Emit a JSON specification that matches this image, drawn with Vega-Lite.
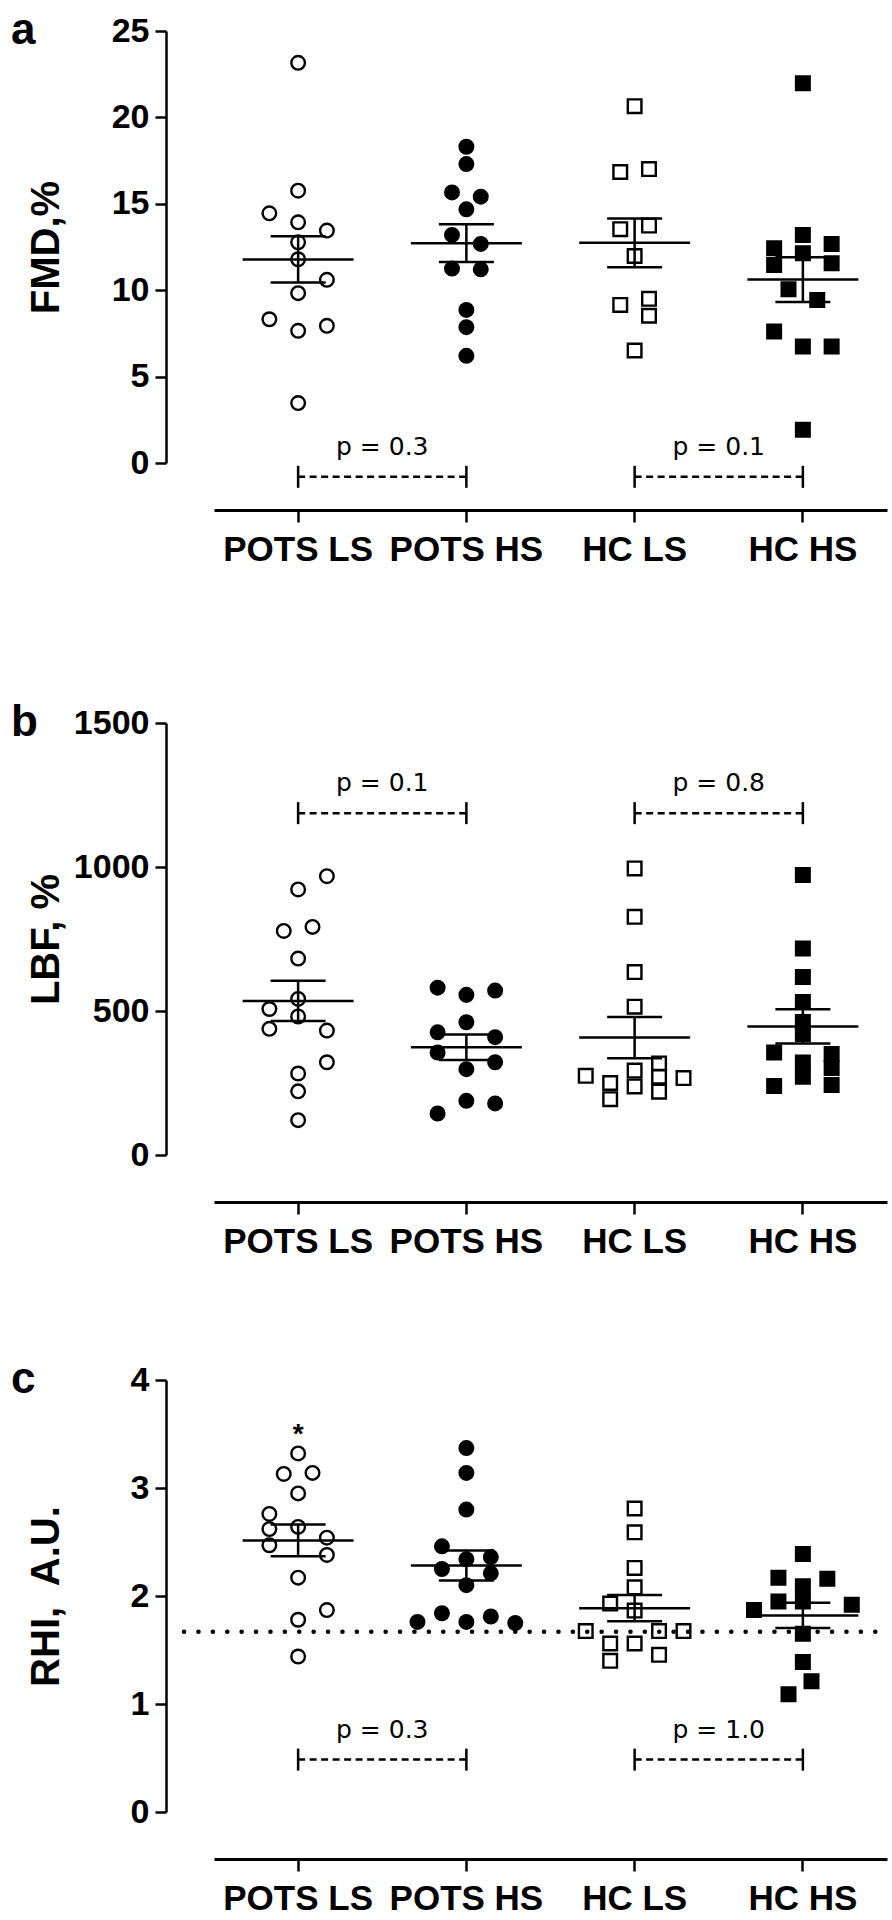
{
  "$schema": "https://vega.github.io/schema/vega-lite/v6.json",
  "background": "white",
  "padding": {"left": 11, "top": 9, "right": 0, "bottom": 0},
  "spacing": 134,
  "config": {
    "view": {"stroke": null},
    "font": "Liberation Sans",
    "axis": {"domainColor": "black", "tickColor": "black", "labelColor": "black", "titleColor": "black", "grid": false, "labelFont": "Liberation Sans", "titleFont": "Liberation Sans"},
    "title": {"anchor": "start", "frame": "bounds", "fontSize": 44, "fontWeight": "bold", "font": "Liberation Sans", "color": "black", "offset": -39, "dx": -15}
  },
  "datasets": {
    "fmd": [
      {"g": "POTS LS", "v": 23.16, "c": 0}, {"g": "POTS LS", "v": 15.76, "c": 0}, {"g": "POTS LS", "v": 14.45, "c": -2}, {"g": "POTS LS", "v": 13.93, "c": 0}, {"g": "POTS LS", "v": 13.45, "c": 2}, {"g": "POTS LS", "v": 12.77, "c": 0}, {"g": "POTS LS", "v": 11.79, "c": 0}, {"g": "POTS LS", "v": 10.6, "c": 2}, {"g": "POTS LS", "v": 9.83, "c": 0}, {"g": "POTS LS", "v": 8.32, "c": -2}, {"g": "POTS LS", "v": 7.94, "c": 2}, {"g": "POTS LS", "v": 7.65, "c": 0}, {"g": "POTS LS", "v": 3.47, "c": 0},
      {"g": "POTS HS", "v": 18.3, "c": 0}, {"g": "POTS HS", "v": 17.3, "c": 0}, {"g": "POTS HS", "v": 15.66, "c": -1}, {"g": "POTS HS", "v": 15.41, "c": 1}, {"g": "POTS HS", "v": 14.68, "c": 0}, {"g": "POTS HS", "v": 13.2, "c": -1}, {"g": "POTS HS", "v": 12.68, "c": 1}, {"g": "POTS HS", "v": 11.25, "c": -1}, {"g": "POTS HS", "v": 11.21, "c": 1}, {"g": "POTS HS", "v": 8.86, "c": 0}, {"g": "POTS HS", "v": 7.86, "c": 0}, {"g": "POTS HS", "v": 6.2, "c": 0},
      {"g": "HC LS", "v": 20.65, "c": 0}, {"g": "HC LS", "v": 16.84, "c": -1}, {"g": "HC LS", "v": 17.01, "c": 1}, {"g": "HC LS", "v": 13.53, "c": -1}, {"g": "HC LS", "v": 13.74, "c": 1}, {"g": "HC LS", "v": 11.98, "c": 0}, {"g": "HC LS", "v": 9.15, "c": -1}, {"g": "HC LS", "v": 9.5, "c": 1}, {"g": "HC LS", "v": 8.52, "c": 1}, {"g": "HC LS", "v": 6.51, "c": 0},
      {"g": "HC HS", "v": 21.97, "c": 0}, {"g": "HC HS", "v": 13.2, "c": 0}, {"g": "HC HS", "v": 12.68, "c": 2}, {"g": "HC HS", "v": 12.43, "c": -2}, {"g": "HC HS", "v": 12.14, "c": 0}, {"g": "HC HS", "v": 11.56, "c": 2}, {"g": "HC HS", "v": 11.46, "c": -2}, {"g": "HC HS", "v": 10.06, "c": -1}, {"g": "HC HS", "v": 9.44, "c": 1}, {"g": "HC HS", "v": 7.61, "c": -2}, {"g": "HC HS", "v": 6.74, "c": 0}, {"g": "HC HS", "v": 6.74, "c": 2}, {"g": "HC HS", "v": 1.93, "c": 0}
    ],
    "lbf": [
      {"g": "POTS LS", "v": 968, "c": 2}, {"g": "POTS LS", "v": 922, "c": 0}, {"g": "POTS LS", "v": 792, "c": 1}, {"g": "POTS LS", "v": 778, "c": -1}, {"g": "POTS LS", "v": 682, "c": 0}, {"g": "POTS LS", "v": 542, "c": 0}, {"g": "POTS LS", "v": 507, "c": -2}, {"g": "POTS LS", "v": 481, "c": 0}, {"g": "POTS LS", "v": 438, "c": -2}, {"g": "POTS LS", "v": 432, "c": 2}, {"g": "POTS LS", "v": 322, "c": 2}, {"g": "POTS LS", "v": 283, "c": 0}, {"g": "POTS LS", "v": 221, "c": 0}, {"g": "POTS LS", "v": 121, "c": 0},
      {"g": "POTS HS", "v": 581, "c": -2}, {"g": "POTS HS", "v": 556, "c": 0}, {"g": "POTS HS", "v": 571, "c": 2}, {"g": "POTS HS", "v": 461, "c": 0}, {"g": "POTS HS", "v": 426, "c": -2}, {"g": "POTS HS", "v": 409, "c": 2}, {"g": "POTS HS", "v": 356, "c": -2}, {"g": "POTS HS", "v": 322, "c": 2}, {"g": "POTS HS", "v": 298, "c": 0}, {"g": "POTS HS", "v": 188, "c": 0}, {"g": "POTS HS", "v": 179, "c": 2}, {"g": "POTS HS", "v": 144, "c": -2},
      {"g": "HC LS", "v": 995, "c": 0}, {"g": "HC LS", "v": 827, "c": 0}, {"g": "HC LS", "v": 635, "c": 0}, {"g": "HC LS", "v": 515, "c": 0}, {"g": "HC LS", "v": 318, "c": 1.7}, {"g": "HC LS", "v": 293, "c": 0}, {"g": "HC LS", "v": 275, "c": -3.4}, {"g": "HC LS", "v": 272, "c": 1.7}, {"g": "HC LS", "v": 267, "c": 3.4}, {"g": "HC LS", "v": 250, "c": -1.7}, {"g": "HC LS", "v": 238, "c": 0}, {"g": "HC LS", "v": 220, "c": 1.7}, {"g": "HC LS", "v": 194, "c": -1.7},
      {"g": "HC HS", "v": 972, "c": 0}, {"g": "HC HS", "v": 717, "c": 0}, {"g": "HC HS", "v": 618, "c": 0}, {"g": "HC HS", "v": 531, "c": 0}, {"g": "HC HS", "v": 462, "c": 0}, {"g": "HC HS", "v": 420, "c": 0}, {"g": "HC HS", "v": 356, "c": -2}, {"g": "HC HS", "v": 351, "c": 2}, {"g": "HC HS", "v": 321, "c": 0}, {"g": "HC HS", "v": 302, "c": 2}, {"g": "HC HS", "v": 272, "c": 0}, {"g": "HC HS", "v": 243, "c": 2}, {"g": "HC HS", "v": 240, "c": -2}
    ],
    "rhi": [
      {"g": "POTS LS", "v": 3.32, "c": 0}, {"g": "POTS LS", "v": 3.13, "c": -1}, {"g": "POTS LS", "v": 3.14, "c": 1}, {"g": "POTS LS", "v": 2.95, "c": 0}, {"g": "POTS LS", "v": 2.76, "c": -2}, {"g": "POTS LS", "v": 2.62, "c": -2}, {"g": "POTS LS", "v": 2.64, "c": 0}, {"g": "POTS LS", "v": 2.54, "c": 2}, {"g": "POTS LS", "v": 2.47, "c": -2}, {"g": "POTS LS", "v": 2.38, "c": 2}, {"g": "POTS LS", "v": 2.17, "c": 0}, {"g": "POTS LS", "v": 1.87, "c": 2}, {"g": "POTS LS", "v": 1.78, "c": 0}, {"g": "POTS LS", "v": 1.44, "c": 0},
      {"g": "POTS HS", "v": 3.37, "c": 0}, {"g": "POTS HS", "v": 3.14, "c": 0}, {"g": "POTS HS", "v": 2.8, "c": 0}, {"g": "POTS HS", "v": 2.46, "c": -1.7}, {"g": "POTS HS", "v": 2.36, "c": 1.7}, {"g": "POTS HS", "v": 2.34, "c": 0}, {"g": "POTS HS", "v": 2.25, "c": -1.7}, {"g": "POTS HS", "v": 2.21, "c": 1.7}, {"g": "POTS HS", "v": 2.1, "c": 0}, {"g": "POTS HS", "v": 1.84, "c": -1.7}, {"g": "POTS HS", "v": 1.76, "c": -3.4}, {"g": "POTS HS", "v": 1.81, "c": 1.7}, {"g": "POTS HS", "v": 1.76, "c": 0}, {"g": "POTS HS", "v": 1.75, "c": 3.4},
      {"g": "HC LS", "v": 2.81, "c": 0}, {"g": "HC LS", "v": 2.59, "c": 0}, {"g": "HC LS", "v": 2.26, "c": 0}, {"g": "HC LS", "v": 2.08, "c": 0}, {"g": "HC LS", "v": 1.93, "c": -1.7}, {"g": "HC LS", "v": 1.865, "c": 0}, {"g": "HC LS", "v": 1.675, "c": -3.4}, {"g": "HC LS", "v": 1.675, "c": 1.7}, {"g": "HC LS", "v": 1.675, "c": 3.4}, {"g": "HC LS", "v": 1.56, "c": -1.7}, {"g": "HC LS", "v": 1.56, "c": 0}, {"g": "HC LS", "v": 1.455, "c": 1.7}, {"g": "HC LS", "v": 1.4, "c": -1.7},
      {"g": "HC HS", "v": 2.39, "c": 0}, {"g": "HC HS", "v": 2.17, "c": -1.7}, {"g": "HC HS", "v": 2.16, "c": 1.7}, {"g": "HC HS", "v": 2.09, "c": 0}, {"g": "HC HS", "v": 1.95, "c": -1.7}, {"g": "HC HS", "v": 1.95, "c": 0}, {"g": "HC HS", "v": 1.92, "c": 3.4}, {"g": "HC HS", "v": 1.87, "c": -3.4}, {"g": "HC HS", "v": 1.65, "c": 0}, {"g": "HC HS", "v": 1.39, "c": 0}, {"g": "HC HS", "v": 1.21, "c": 0.6}, {"g": "HC HS", "v": 1.09, "c": -1.0}
    ],
    "brA": [{"from": "POTS LS", "to": "POTS HS", "v": -0.8, "p": "p = 0.3"}, {"from": "HC LS", "to": "HC HS", "v": -0.8, "p": "p = 0.1"}],
    "brB": [{"from": "POTS LS", "to": "POTS HS", "v": 1187, "p": "p = 0.1"}, {"from": "HC LS", "to": "HC HS", "v": 1187, "p": "p = 0.8"}],
    "brC": [{"from": "POTS LS", "to": "POTS HS", "v": 0.485, "p": "p = 0.3"}, {"from": "HC LS", "to": "HC HS", "v": 0.485, "p": "p = 1.0"}],
    "refC": [{"from": "POTS LS", "to": "HC HS", "v": 1.668}]
  },
  "vconcat": [
    {
      "title": {"text": "a"},
      "width": 673, "height": 432,
      "layer": [
        {"data": {"name": "fmd"}, "mark": {"type": "point", "filled": true, "stroke": "black", "strokeWidth": 2.4, "opacity": 1},
         "encoding": {
           "x": {"field": "g", "type": "nominal", "title": null, "scale": {"type": "band", "domain": ["POTS LS", "POTS HS", "HC LS", "HC HS"], "paddingInner": 0, "paddingOuter": 0}, "axis": {"offset": 47, "domainWidth": 3, "tickSize": 12, "tickWidth": 2.5, "labelFontSize": 35, "labelFontWeight": "bold", "labelPadding": 10, "labelAngle": 0, "labelOverlap": false}},
           "xOffset": {"field": "c", "type": "quantitative", "scale": {"domain": [-5.85, 5.85]}},
           "y": {"field": "v", "type": "quantitative", "title": "FMD,%", "scale": {"domain": [0, 25], "nice": false, "zero": false}, "axis": {"values": [0, 5, 10, 15, 20, 25], "format": "d", "offset": 48, "titleX": -120, "titleY": 216, "titleAngle": -90, "titleAlign": "center", "titleBaseline": "middle", "titleFontSize": 40, "titleFontWeight": "bold", "labelFontSize": 34, "labelFontWeight": "bold", "labelPadding": 6, "tickSize": 11, "tickWidth": 2.5, "domainWidth": 2.5}},
           "shape": {"field": "g", "type": "nominal", "scale": {"domain": ["POTS LS", "POTS HS", "HC LS", "HC HS"], "range": ["circle", "circle", "square", "square"]}, "legend": null},
           "fill": {"field": "g", "type": "nominal", "scale": {"domain": ["POTS LS", "POTS HS", "HC LS", "HC HS"], "range": ["transparent", "black", "transparent", "black"]}, "legend": null},
           "size": {"field": "g", "type": "ordinal", "scale": {"domain": ["POTS LS", "POTS HS", "HC LS", "HC HS"], "range": [185, 185, 200, 200]}, "legend": null}
         }},
        {"data": {"name": "fmd"}, "mark": {"type": "tick", "color": "black", "thickness": 2.5, "size": 111, "opacity": 1},
         "encoding": {"x": {"field": "g", "type": "nominal", "title": null, "scale": {"type": "band", "domain": ["POTS LS", "POTS HS", "HC LS", "HC HS"], "paddingInner": 0, "paddingOuter": 0}},
           "y": {"aggregate": "mean", "field": "v", "type": "quantitative", "title": "FMD,%", "scale": {"domain": [0, 25], "nice": false, "zero": false}}}},
        {"data": {"name": "fmd"}, "mark": {"type": "errorbar", "extent": "stderr", "size": 55, "thickness": 2.5, "color": "black", "ticks": {"color": "black", "opacity": 1, "thickness": 2.5}, "rule": {"color": "black", "opacity": 1, "strokeWidth": 2.5}},
         "encoding": {"x": {"field": "g", "type": "nominal", "title": null, "scale": {"type": "band", "domain": ["POTS LS", "POTS HS", "HC LS", "HC HS"], "paddingInner": 0, "paddingOuter": 0}},
           "y": {"field": "v", "type": "quantitative", "title": "FMD,%", "scale": {"domain": [0, 25], "nice": false, "zero": false}}}},
        {"data": {"name": "brA"}, "mark": {"type": "rule", "strokeDash": [7, 4.5], "strokeWidth": 2.5, "color": "black"},
         "encoding": {"x": {"field": "from", "type": "nominal", "title": null, "bandPosition": 0.5, "scale": {"type": "band", "domain": ["POTS LS", "POTS HS", "HC LS", "HC HS"], "paddingInner": 0, "paddingOuter": 0}},
           "x2": {"field": "to", "bandPosition": 0.5},
           "y": {"field": "v", "type": "quantitative", "title": "FMD,%", "scale": {"domain": [0, 25], "nice": false, "zero": false}}}},
        {"data": {"name": "brA"}, "transform": [{"fold": ["from", "to"], "as": ["end", "g"]}], "mark": {"type": "tick", "orient": "vertical", "size": 22, "thickness": 2.5, "color": "black", "opacity": 1},
         "encoding": {"x": {"field": "g", "type": "nominal", "title": null, "scale": {"type": "band", "domain": ["POTS LS", "POTS HS", "HC LS", "HC HS"], "paddingInner": 0, "paddingOuter": 0}},
           "y": {"field": "v", "type": "quantitative", "title": "FMD,%", "scale": {"domain": [0, 25], "nice": false, "zero": false}}}},
        {"data": {"name": "brA"}, "mark": {"type": "text", "font": "DejaVu Sans", "fontSize": 25, "baseline": "alphabetic", "dy": -22, "color": "black"},
         "encoding": {"x": {"field": "from", "type": "nominal", "title": null, "bandPosition": 1, "scale": {"type": "band", "domain": ["POTS LS", "POTS HS", "HC LS", "HC HS"], "paddingInner": 0, "paddingOuter": 0}},
           "y": {"field": "v", "type": "quantitative", "title": "FMD,%", "scale": {"domain": [0, 25], "nice": false, "zero": false}},
           "text": {"field": "p"}}}
      ]
    },
    {
      "spacing": 99,
      "vconcat": [
        {
          "title": {"text": "b"},
          "width": 673, "height": 432,
          "layer": [
            {"data": {"name": "lbf"}, "mark": {"type": "point", "filled": true, "stroke": "black", "strokeWidth": 2.4, "opacity": 1},
             "encoding": {
               "x": {"field": "g", "type": "nominal", "title": null, "scale": {"type": "band", "domain": ["POTS LS", "POTS HS", "HC LS", "HC HS"], "paddingInner": 0, "paddingOuter": 0}, "axis": {"offset": 47, "domainWidth": 3, "tickSize": 12, "tickWidth": 2.5, "labelFontSize": 35, "labelFontWeight": "bold", "labelPadding": 10, "labelAngle": 0, "labelOverlap": false}},
               "xOffset": {"field": "c", "type": "quantitative", "scale": {"domain": [-5.85, 5.85]}},
               "y": {"field": "v", "type": "quantitative", "title": "LBF, %", "scale": {"domain": [0, 1500], "nice": false, "zero": false}, "axis": {"values": [0, 500, 1000, 1500], "format": "d", "offset": 48, "titleX": -120, "titleY": 216, "titleAngle": -90, "titleAlign": "center", "titleBaseline": "middle", "titleFontSize": 40, "titleFontWeight": "bold", "labelFontSize": 34, "labelFontWeight": "bold", "labelPadding": 6, "tickSize": 11, "tickWidth": 2.5, "domainWidth": 2.5}},
               "shape": {"field": "g", "type": "nominal", "scale": {"domain": ["POTS LS", "POTS HS", "HC LS", "HC HS"], "range": ["circle", "circle", "square", "square"]}, "legend": null},
               "fill": {"field": "g", "type": "nominal", "scale": {"domain": ["POTS LS", "POTS HS", "HC LS", "HC HS"], "range": ["transparent", "black", "transparent", "black"]}, "legend": null},
               "size": {"field": "g", "type": "ordinal", "scale": {"domain": ["POTS LS", "POTS HS", "HC LS", "HC HS"], "range": [185, 185, 200, 200]}, "legend": null}
             }},
            {"data": {"name": "lbf"}, "mark": {"type": "tick", "color": "black", "thickness": 2.5, "size": 111, "opacity": 1},
             "encoding": {"x": {"field": "g", "type": "nominal", "title": null, "scale": {"type": "band", "domain": ["POTS LS", "POTS HS", "HC LS", "HC HS"], "paddingInner": 0, "paddingOuter": 0}},
               "y": {"aggregate": "mean", "field": "v", "type": "quantitative", "title": "LBF, %", "scale": {"domain": [0, 1500], "nice": false, "zero": false}}}},
            {"data": {"name": "lbf"}, "mark": {"type": "errorbar", "extent": "stderr", "size": 55, "thickness": 2.5, "color": "black", "ticks": {"color": "black", "opacity": 1, "thickness": 2.5}, "rule": {"color": "black", "opacity": 1, "strokeWidth": 2.5}},
             "encoding": {"x": {"field": "g", "type": "nominal", "title": null, "scale": {"type": "band", "domain": ["POTS LS", "POTS HS", "HC LS", "HC HS"], "paddingInner": 0, "paddingOuter": 0}},
               "y": {"field": "v", "type": "quantitative", "title": "LBF, %", "scale": {"domain": [0, 1500], "nice": false, "zero": false}}}},
            {"data": {"name": "brB"}, "mark": {"type": "rule", "strokeDash": [7, 4.5], "strokeWidth": 2.5, "color": "black"},
             "encoding": {"x": {"field": "from", "type": "nominal", "title": null, "bandPosition": 0.5, "scale": {"type": "band", "domain": ["POTS LS", "POTS HS", "HC LS", "HC HS"], "paddingInner": 0, "paddingOuter": 0}},
               "x2": {"field": "to", "bandPosition": 0.5},
               "y": {"field": "v", "type": "quantitative", "title": "LBF, %", "scale": {"domain": [0, 1500], "nice": false, "zero": false}}}},
            {"data": {"name": "brB"}, "transform": [{"fold": ["from", "to"], "as": ["end", "g"]}], "mark": {"type": "tick", "orient": "vertical", "size": 22, "thickness": 2.5, "color": "black", "opacity": 1},
             "encoding": {"x": {"field": "g", "type": "nominal", "title": null, "scale": {"type": "band", "domain": ["POTS LS", "POTS HS", "HC LS", "HC HS"], "paddingInner": 0, "paddingOuter": 0}},
               "y": {"field": "v", "type": "quantitative", "title": "LBF, %", "scale": {"domain": [0, 1500], "nice": false, "zero": false}}}},
            {"data": {"name": "brB"}, "mark": {"type": "text", "font": "DejaVu Sans", "fontSize": 25, "baseline": "alphabetic", "dy": -22, "color": "black"},
             "encoding": {"x": {"field": "from", "type": "nominal", "title": null, "bandPosition": 1, "scale": {"type": "band", "domain": ["POTS LS", "POTS HS", "HC LS", "HC HS"], "paddingInner": 0, "paddingOuter": 0}},
               "y": {"field": "v", "type": "quantitative", "title": "LBF, %", "scale": {"domain": [0, 1500], "nice": false, "zero": false}},
               "text": {"field": "p"}}}
          ]
        },
        {
          "title": {"text": "c"},
          "width": 673, "height": 432,
          "layer": [
            {"data": {"name": "rhi"}, "mark": {"type": "point", "filled": true, "stroke": "black", "strokeWidth": 2.4, "opacity": 1},
             "encoding": {
               "x": {"field": "g", "type": "nominal", "title": null, "scale": {"type": "band", "domain": ["POTS LS", "POTS HS", "HC LS", "HC HS"], "paddingInner": 0, "paddingOuter": 0}, "axis": {"offset": 47, "domainWidth": 3, "tickSize": 12, "tickWidth": 2.5, "labelFontSize": 35, "labelFontWeight": "bold", "labelPadding": 10, "labelAngle": 0, "labelOverlap": false}},
               "xOffset": {"field": "c", "type": "quantitative", "scale": {"domain": [-5.85, 5.85]}},
               "y": {"field": "v", "type": "quantitative", "title": "RHI,\u00a0 A.U.", "scale": {"domain": [0, 4], "nice": false, "zero": false}, "axis": {"values": [0, 1, 2, 3, 4], "format": "d", "offset": 48, "titleX": -120, "titleY": 216, "titleAngle": -90, "titleAlign": "center", "titleBaseline": "middle", "titleFontSize": 40, "titleFontWeight": "bold", "labelFontSize": 34, "labelFontWeight": "bold", "labelPadding": 6, "tickSize": 11, "tickWidth": 2.5, "domainWidth": 2.5}},
               "shape": {"field": "g", "type": "nominal", "scale": {"domain": ["POTS LS", "POTS HS", "HC LS", "HC HS"], "range": ["circle", "circle", "square", "square"]}, "legend": null},
               "fill": {"field": "g", "type": "nominal", "scale": {"domain": ["POTS LS", "POTS HS", "HC LS", "HC HS"], "range": ["transparent", "black", "transparent", "black"]}, "legend": null},
               "size": {"field": "g", "type": "ordinal", "scale": {"domain": ["POTS LS", "POTS HS", "HC LS", "HC HS"], "range": [185, 185, 200, 200]}, "legend": null}
             }},
            {"data": {"name": "refC"}, "mark": {"type": "rule", "strokeDash": [0.1, 14.3], "strokeCap": "round", "strokeWidth": 4.5, "color": "black", "xOffset": -30},
             "encoding": {"x": {"field": "from", "type": "nominal", "title": null, "bandPosition": 0, "scale": {"type": "band", "domain": ["POTS LS", "POTS HS", "HC LS", "HC HS"], "paddingInner": 0, "paddingOuter": 0}},
               "x2": {"field": "to", "bandPosition": 1},
               "y": {"field": "v", "type": "quantitative", "title": "RHI,\u00a0 A.U.", "scale": {"domain": [0, 4], "nice": false, "zero": false}}}},
            {"data": {"name": "rhi"}, "mark": {"type": "tick", "color": "black", "thickness": 2.5, "size": 111, "opacity": 1},
             "encoding": {"x": {"field": "g", "type": "nominal", "title": null, "scale": {"type": "band", "domain": ["POTS LS", "POTS HS", "HC LS", "HC HS"], "paddingInner": 0, "paddingOuter": 0}},
               "y": {"aggregate": "mean", "field": "v", "type": "quantitative", "title": "RHI,\u00a0 A.U.", "scale": {"domain": [0, 4], "nice": false, "zero": false}}}},
            {"data": {"name": "rhi"}, "mark": {"type": "errorbar", "extent": "stderr", "size": 55, "thickness": 2.5, "color": "black", "ticks": {"color": "black", "opacity": 1, "thickness": 2.5}, "rule": {"color": "black", "opacity": 1, "strokeWidth": 2.5}},
             "encoding": {"x": {"field": "g", "type": "nominal", "title": null, "scale": {"type": "band", "domain": ["POTS LS", "POTS HS", "HC LS", "HC HS"], "paddingInner": 0, "paddingOuter": 0}},
               "y": {"field": "v", "type": "quantitative", "title": "RHI,\u00a0 A.U.", "scale": {"domain": [0, 4], "nice": false, "zero": false}}}},
            {"data": {"name": "brC"}, "mark": {"type": "rule", "strokeDash": [7, 4.5], "strokeWidth": 2.5, "color": "black"},
             "encoding": {"x": {"field": "from", "type": "nominal", "title": null, "bandPosition": 0.5, "scale": {"type": "band", "domain": ["POTS LS", "POTS HS", "HC LS", "HC HS"], "paddingInner": 0, "paddingOuter": 0}},
               "x2": {"field": "to", "bandPosition": 0.5},
               "y": {"field": "v", "type": "quantitative", "title": "RHI,\u00a0 A.U.", "scale": {"domain": [0, 4], "nice": false, "zero": false}}}},
            {"data": {"name": "brC"}, "transform": [{"fold": ["from", "to"], "as": ["end", "g"]}], "mark": {"type": "tick", "orient": "vertical", "size": 22, "thickness": 2.5, "color": "black", "opacity": 1},
             "encoding": {"x": {"field": "g", "type": "nominal", "title": null, "scale": {"type": "band", "domain": ["POTS LS", "POTS HS", "HC LS", "HC HS"], "paddingInner": 0, "paddingOuter": 0}},
               "y": {"field": "v", "type": "quantitative", "title": "RHI,\u00a0 A.U.", "scale": {"domain": [0, 4], "nice": false, "zero": false}}}},
            {"data": {"name": "brC"}, "mark": {"type": "text", "font": "DejaVu Sans", "fontSize": 25, "baseline": "alphabetic", "dy": -22, "color": "black"},
             "encoding": {"x": {"field": "from", "type": "nominal", "title": null, "bandPosition": 1, "scale": {"type": "band", "domain": ["POTS LS", "POTS HS", "HC LS", "HC HS"], "paddingInner": 0, "paddingOuter": 0}},
               "y": {"field": "v", "type": "quantitative", "title": "RHI,\u00a0 A.U.", "scale": {"domain": [0, 4], "nice": false, "zero": false}},
               "text": {"field": "p"}}},
            {"data": {"values": [{"g": "POTS LS", "v": 3.42, "t": "*"}]}, "mark": {"type": "text", "fontSize": 28, "fontWeight": "bold", "baseline": "alphabetic", "color": "black"},
             "encoding": {"x": {"field": "g", "type": "nominal", "title": null, "scale": {"type": "band", "domain": ["POTS LS", "POTS HS", "HC LS", "HC HS"], "paddingInner": 0, "paddingOuter": 0}},
               "y": {"field": "v", "type": "quantitative", "title": "RHI,\u00a0 A.U.", "scale": {"domain": [0, 4], "nice": false, "zero": false}},
               "text": {"field": "t"}}}
          ]
        }
      ]
    }
  ]
}
